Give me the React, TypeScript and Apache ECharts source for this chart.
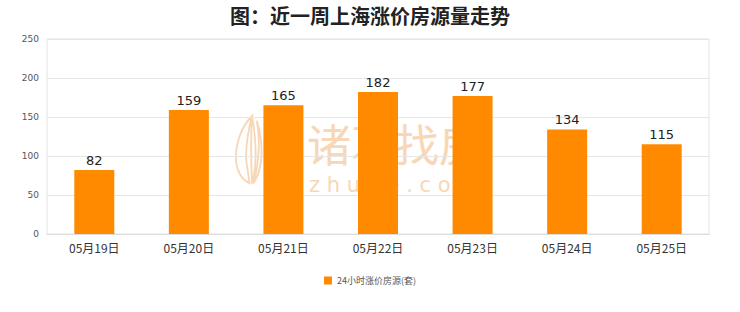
import React, { useEffect, useRef } from "react";
import * as echarts from "echarts";

const categories = ["05月19日", "05月20日", "05月21日", "05月22日", "05月23日", "05月24日", "05月25日"];
const risingListings = [82, 159, 165, 182, 177, 134, 115];
const seriesName = "24小时涨价房源(套)";
const titleText = "图：近一周上海涨价房源量走势";

// Feather mark of the watermark
const featherPath =
  "M30 0 C10 15 0 40 4 60 C8 75 18 82 26 84 L22 64 C18 50 20 30 30 0 Z " +
  "M30 0 C28 25 28 50 30 84 C36 70 40 40 30 0 Z " +
  "M38 6 C44 30 42 60 32 84 C46 70 52 40 38 6 Z";

echarts.graphic.registerShape("feather", echarts.graphic.extendPath(featherPath, {}) as any);

export default function App() {
  const ref = useRef<HTMLDivElement>(null);
  useEffect(() => {
    document.body.style.margin = "0";
    if (!ref.current) return;
    const chart = echarts.init(ref.current, null, { renderer: "svg" });
    const wm = "#f7d7b6";
    chart.setOption({
      animation: false,
      backgroundColor: "#ffffff",
      title: {
        text: titleText,
        left: "center",
        top: 3,
        padding: 0,
        textStyle: {
          fontFamily: "Noto Sans CJK SC",
          fontSize: 20,
          lineHeight: 24,
          fontWeight: "bold",
          color: "#222",
        },
      },
      graphic: [
        {
          type: "group",
          z: 0,
          silent: true,
          children: [
            {
              type: "feather",
              x: 234,
              y: 116,
              scaleX: 0.6,
              scaleY: 0.8,
              style: { fill: "none", stroke: wm, lineWidth: 3 },
            },
            {
              type: "text",
              x: 307,
              y: 143,
              style: {
                text: "诸葛找房",
                fontFamily: "Noto Sans CJK SC",
                fontSize: 44,
                lineHeight: 44,
                verticalAlign: "middle",
                fill: wm,
              },
            },
            {
              type: "text",
              x: 309,
              y: 185,
              style: {
                text: "z h u g e . c o m",
                fontFamily: "DejaVu Sans",
                fontSize: 21,
                lineHeight: 22,
                verticalAlign: "middle",
                fill: wm,
              },
            },
          ],
        },
      ],
      legend: {
        bottom: 22,
        left: "center",
        itemWidth: 8,
        itemHeight: 8,
        itemGap: 6,
        icon: "rect",
        textStyle: { fontFamily: "Noto Sans CJK SC", fontSize: 9, color: "#555" },
        data: [seriesName],
      },
      grid: {
        left: 47,
        right: 31,
        top: 39,
        bottom: 78,
        show: true,
        borderColor: "#e3e3e3",
        borderWidth: 1,
      },
      xAxis: {
        type: "category",
        data: categories,
        axisLine: { lineStyle: { color: "#dcdcdc" } },
        axisTick: { show: false },
        axisLabel: {
          fontFamily: "Noto Sans CJK SC",
          fontSize: 12,
          color: "#333",
          margin: 7,
        },
      },
      yAxis: {
        type: "value",
        min: 0,
        max: 250,
        interval: 50,
        axisLine: { show: false },
        axisTick: { show: false },
        splitLine: { lineStyle: { color: "#e6e6e6" } },
        axisLabel: {
          fontFamily: "DejaVu Sans",
          fontSize: 9,
          color: "#555",
          margin: 8,
        },
      },
      series: [
        {
          name: seriesName,
          type: "bar",
          data: risingListings,
          barWidth: 40,
          z: 5,
          itemStyle: { color: "#ff8a00" },
          label: {
            show: true,
            position: "top",
            distance: 3,
            fontFamily: "DejaVu Sans",
            fontSize: 13,
            color: "#222",
          },
        },
      ],
    });
    return () => chart.dispose();
  }, []);
  return <div ref={ref} style={{ width: 740, height: 312 }} />;
}
